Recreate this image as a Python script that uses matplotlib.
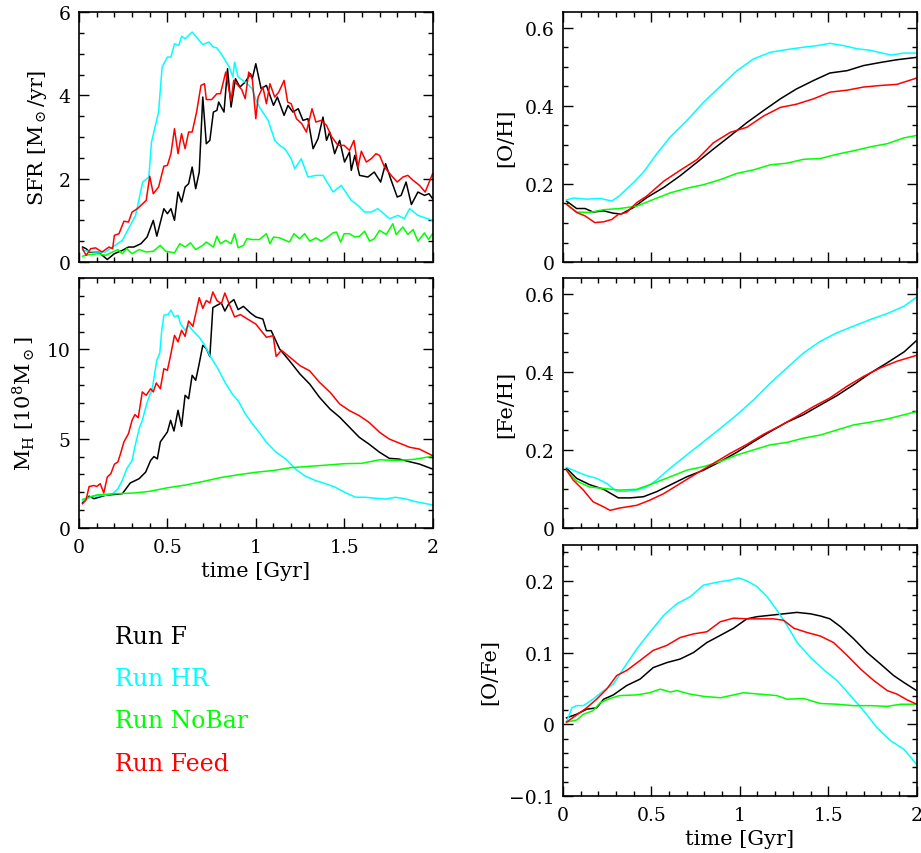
import matplotlib
matplotlib.use("Agg")
import matplotlib.pyplot as plt
from matplotlib.ticker import MultipleLocator, FuncFormatter

plt.rcParams["font.family"] = "DejaVu Serif"
plt.rcParams["mathtext.fontset"] = "dejavuserif"

# ------------------------------------------------------------------
# data (time in Gyr)
# ------------------------------------------------------------------
runs = ["Run F", "Run HR", "Run NoBar", "Run Feed"]
colors = ["black", "#00ffff", "#00ff00", "#ff0000"]

# SFR [Msun/yr]
sfr_t_F = [0.02, 0.04, 0.06, 0.11, 0.16, 0.2, 0.245, 0.28, 0.31, 0.35, 0.385, 0.42, 0.44, 0.48, 0.5,
           0.52, 0.54, 0.56, 0.58, 0.6, 0.62, 0.64, 0.66, 0.68, 0.7, 0.72, 0.74, 0.76, 0.78, 0.79,
           0.82, 0.84, 0.86, 0.885, 0.91, 0.94, 0.97, 0.98, 1.0, 1.03, 1.06, 1.1, 1.122, 1.16, 1.182,
           1.21, 1.24, 1.267, 1.295, 1.324, 1.352, 1.38, 1.4, 1.418, 1.446, 1.474, 1.502, 1.53, 1.54,
           1.56, 1.587, 1.634, 1.67, 1.706, 1.734, 1.766, 1.8, 1.822, 1.85, 1.88, 1.917, 1.954, 1.98, 2.0]
sfr_F = [0.36, 0.32, 0.24, 0.24, 0.06, 0.2, 0.28, 0.36, 0.36, 0.44, 0.6, 1.0, 0.62, 1.28, 1.16,
         1.28, 1.0, 1.68, 1.44, 1.8, 1.88, 2.28, 1.76, 2.16, 3.96, 2.84, 2.92, 3.6, 3.64, 3.84,
         3.6, 4.64, 3.72, 4.4, 4.2, 4.32, 4.52, 4.4, 4.76, 4.16, 4.24, 3.76, 3.96, 3.52, 3.76,
         3.6, 3.68, 3.4, 3.44, 2.72, 2.96, 3.48, 2.92, 3.12, 2.6, 2.92, 2.4, 2.64, 2.2,
         2.56, 2.08, 2.04, 2.16, 1.92, 2.36, 1.96, 1.56, 1.6, 1.92, 1.38, 1.68, 1.6, 1.64, 1.52]

sfr_t_HR = [0.02, 0.094, 0.15, 0.19, 0.245, 0.28, 0.32, 0.36, 0.395, 0.41, 0.45, 0.47, 0.5, 0.52, 0.54,
            0.565, 0.58, 0.6, 0.64, 0.7, 0.735, 0.76, 0.78, 0.81, 0.85, 0.87, 0.88, 0.9, 0.94, 0.98,
            1.0, 1.02, 1.07, 1.107, 1.135, 1.164, 1.2, 1.22, 1.257, 1.295, 1.34, 1.38, 1.437, 1.483, 1.54,
            1.578, 1.615, 1.653, 1.69, 1.757, 1.804, 1.84, 1.87, 1.917, 2.0]
sfr_HR = [0.28, 0.24, 0.24, 0.36, 0.52, 0.8, 1.12, 1.92, 2.04, 2.88, 3.6, 4.68, 4.92, 4.92, 5.24,
          5.2, 5.42, 5.36, 5.52, 5.22, 5.28, 5.16, 5.14, 4.96, 4.68, 4.44, 4.8, 4.44, 4.32, 4.16,
          3.9, 3.72, 3.4, 2.92, 2.8, 2.72, 2.48, 2.24, 2.48, 2.04, 2.08, 2.08, 1.68, 1.84, 1.48,
          1.36, 1.2, 1.2, 1.28, 1.04, 1.12, 1.04, 1.28, 1.12, 1.0]

sfr_t_NoBar = [0.02, 0.06, 0.11, 0.15, 0.19, 0.22, 0.245, 0.27, 0.3, 0.34, 0.38, 0.42, 0.46, 0.49, 0.54,
               0.57, 0.6, 0.63, 0.66, 0.7, 0.72, 0.76, 0.78, 0.8, 0.83, 0.86, 0.88, 0.9, 0.93, 0.95,
               0.98, 1.02, 1.06, 1.08, 1.1, 1.135, 1.19, 1.216, 1.248, 1.276, 1.305, 1.34, 1.37, 1.4,
               1.437, 1.456, 1.48, 1.5, 1.53, 1.56, 1.587, 1.615, 1.644, 1.67, 1.7, 1.738, 1.775, 1.794,
               1.832, 1.86, 1.89, 1.917, 1.954, 1.977, 2.0]
sfr_NoBar = [0.14, 0.18, 0.2, 0.16, 0.24, 0.3, 0.2, 0.32, 0.2, 0.3, 0.24, 0.26, 0.4, 0.26, 0.22,
             0.44, 0.36, 0.46, 0.3, 0.4, 0.48, 0.36, 0.62, 0.44, 0.52, 0.44, 0.68, 0.34, 0.4, 0.56,
             0.54, 0.54, 0.68, 0.44, 0.6, 0.58, 0.48, 0.68, 0.56, 0.68, 0.5, 0.58, 0.5, 0.58,
             0.7, 0.72, 0.48, 0.68, 0.68, 0.6, 0.62, 0.74, 0.5, 0.56, 0.76, 0.66, 0.92, 0.66,
             0.84, 0.66, 0.78, 0.5, 0.7, 0.54, 0.68]

sfr_t_Feed = [0.02, 0.04, 0.066, 0.094, 0.13, 0.17, 0.19, 0.2, 0.226, 0.254, 0.28, 0.3, 0.33, 0.36, 0.38,
              0.4, 0.42, 0.45, 0.48, 0.5, 0.52, 0.54, 0.56, 0.58, 0.6, 0.62, 0.64, 0.665, 0.69, 0.71,
              0.72, 0.75, 0.78, 0.8, 0.83, 0.86, 0.875, 0.9, 0.92, 0.94, 0.96, 0.98, 1.0, 1.013, 1.04,
              1.06, 1.08, 1.107, 1.13, 1.16, 1.18, 1.2, 1.23, 1.26, 1.286, 1.318, 1.34, 1.37, 1.4,
              1.43, 1.465, 1.5, 1.53, 1.555, 1.578, 1.597, 1.625, 1.653, 1.68, 1.7, 1.728, 1.766, 1.8,
              1.832, 1.86, 1.89, 1.926, 1.958, 1.977, 2.0]
sfr_Feed = [0.32, 0.16, 0.32, 0.34, 0.24, 0.36, 0.32, 0.64, 0.68, 0.98, 0.96, 1.2, 1.28, 1.4, 1.48,
            2.06, 1.64, 1.8, 2.3, 2.32, 2.6, 3.2, 2.6, 3.08, 2.72, 3.12, 3.12, 3.6, 4.24, 4.28,
            3.9, 3.9, 4.04, 4.04, 4.56, 3.86, 4.36, 4.24, 4.14, 3.92, 4.56, 4.4, 3.44, 3.96, 4.2,
            3.8, 4.28, 3.96, 4.08, 4.36, 3.84, 3.8, 3.44, 3.32, 3.12, 3.68, 3.36, 3.4, 3.28,
            3.0, 2.8, 2.8, 2.68, 2.92, 2.28, 2.66, 2.4, 2.48, 2.6, 2.56, 2.28, 2.08, 1.92,
            2.04, 2.08, 1.96, 1.84, 1.68, 1.88, 2.12]

# M_H [1e8 Msun]
mh_t_F = [0.02, 0.057, 0.085, 0.15, 0.245, 0.29, 0.34, 0.377, 0.405, 0.424, 0.443, 0.46, 0.48, 0.5,
          0.518, 0.537, 0.56, 0.58, 0.6, 0.62, 0.64, 0.66, 0.678, 0.7, 0.72, 0.74, 0.757, 0.78, 0.805,
          0.825, 0.847, 0.876, 0.9, 0.93, 0.97, 1.0, 1.04, 1.06, 1.087, 1.135, 1.19, 1.25, 1.305,
          1.36, 1.42, 1.475, 1.53, 1.585, 1.64, 1.7, 1.755, 1.81, 1.87, 1.925, 2.0]
mh_F = [1.4, 1.78, 1.64, 1.83, 1.92, 2.52, 2.76, 3.13, 3.78, 4.0, 3.87, 4.82, 5.1, 5.38,
        6.03, 5.43, 6.59, 5.69, 7.43, 7.24, 8.55, 8.27, 9.11, 10.23, 10.04, 9.6, 12.34, 12.47, 12.6,
        12.15, 12.56, 12.79, 12.23, 12.41, 12.04, 11.82, 11.7, 11.05, 11.05, 10.02, 9.37, 8.62, 8.06,
        7.32, 6.66, 6.2, 5.64, 5.08, 4.7, 4.24, 3.9, 3.86, 3.71, 3.58, 3.3]

mh_t_HR = [0.02, 0.075, 0.15, 0.19, 0.22, 0.245, 0.27, 0.3, 0.316, 0.34, 0.358, 0.386, 0.414, 0.44,
           0.457, 0.467, 0.48, 0.505, 0.52, 0.54, 0.56, 0.574, 0.6, 0.62, 0.65, 0.678, 0.706, 0.744,
           0.78, 0.83, 0.866, 0.904, 0.94, 0.98, 1.017, 1.06, 1.115, 1.17, 1.225, 1.28, 1.34, 1.4,
           1.45, 1.51, 1.565, 1.62, 1.68, 1.735, 1.79, 1.85, 1.905, 2.0]
mh_HR = [1.51, 1.78, 1.83, 1.92, 2.2, 2.67, 3.32, 3.78, 4.54, 5.56, 6.03, 7.06, 7.8, 9.39,
         9.8, 10.98, 11.91, 11.97, 12.2, 11.82, 11.91, 11.44, 11.07, 11.35, 10.98, 10.7, 10.32, 9.58,
         9.02, 8.08, 7.52, 7.06, 6.4, 5.84, 5.38, 4.8, 4.24, 3.86, 3.3, 2.9, 2.65, 2.46,
         2.28, 1.96, 1.72, 1.72, 1.66, 1.62, 1.72, 1.62, 1.47, 1.29]

mh_t_NoBar = [0.02, 0.1, 0.2, 0.3, 0.4, 0.5, 0.6, 0.7, 0.8, 0.9, 1.0, 1.1, 1.2, 1.3, 1.4, 1.5,
              1.6, 1.7, 1.8, 1.9, 2.0]
mh_NoBar = [1.6, 1.85, 1.92, 1.95, 2.05, 2.25, 2.4, 2.6, 2.82, 2.98, 3.12, 3.22, 3.38, 3.45, 3.52,
            3.6, 3.62, 3.82, 3.78, 3.85, 4.02]

mh_t_Feed = [0.02, 0.04, 0.057, 0.085, 0.1, 0.12, 0.14, 0.16, 0.18, 0.2, 0.22, 0.235, 0.254, 0.28,
             0.3, 0.316, 0.335, 0.358, 0.38, 0.405, 0.42, 0.437, 0.46, 0.48, 0.5, 0.52, 0.54, 0.56,
             0.58, 0.6, 0.62, 0.644, 0.66, 0.68, 0.7, 0.72, 0.74, 0.757, 0.78, 0.805, 0.825, 0.847,
             0.88, 0.913, 0.95, 1.0, 1.06, 1.098, 1.115, 1.145, 1.193, 1.25, 1.305, 1.36, 1.42,
             1.475, 1.53, 1.585, 1.64, 1.7, 1.755, 1.81, 1.87, 1.925, 2.0]
mh_Feed = [1.36, 1.58, 2.32, 2.38, 2.32, 2.48, 1.96, 2.86, 3.04, 3.57, 3.7, 4.17, 4.82, 5.29,
           6.03, 6.35, 6.18, 7.62, 7.43, 7.8, 7.62, 8.12, 7.8, 8.92, 8.83, 9.76, 10.79, 10.42,
           11.07, 10.73, 11.59, 11.29, 12.0, 12.9, 12.3, 12.74, 12.6, 13.22, 12.74, 12.56, 13.16, 12.6,
           11.82, 11.95, 11.72, 11.42, 10.68, 10.77, 9.61, 9.95, 9.56, 9.09, 8.8, 8.16, 7.6,
           6.94, 6.57, 6.29, 5.92, 5.36, 4.98, 4.76, 4.52, 4.42, 4.05]

# [O/H]
oh_t_F = [0.02, 0.077, 0.125, 0.17, 0.23, 0.285, 0.33, 0.4, 0.474, 0.57, 0.663, 0.757, 0.85, 0.946,
          1.04, 1.135, 1.23, 1.32, 1.418, 1.51, 1.607, 1.7, 1.796, 1.89, 2.0]
oh_F = [0.156, 0.137, 0.137, 0.128, 0.131, 0.125, 0.123, 0.14, 0.165, 0.191, 0.221, 0.255, 0.289, 0.323,
        0.357, 0.388, 0.418, 0.443, 0.465, 0.484, 0.49, 0.503, 0.511, 0.518, 0.524]
oh_t_HR = [0.02, 0.06, 0.134, 0.21, 0.276, 0.32, 0.4, 0.455, 0.53, 0.606, 0.7, 0.795, 0.89, 0.984,
           1.078, 1.173, 1.267, 1.36, 1.437, 1.51, 1.588, 1.664, 1.74, 1.853, 1.93, 2.0]
oh_HR = [0.159, 0.164, 0.161, 0.163, 0.156, 0.17, 0.204, 0.23, 0.277, 0.32, 0.362, 0.409, 0.45, 0.49,
         0.52, 0.537, 0.544, 0.55, 0.554, 0.56, 0.554, 0.546, 0.542, 0.53, 0.535, 0.535]
oh_t_NoBar = [0.02, 0.077, 0.15, 0.23, 0.32, 0.417, 0.51, 0.606, 0.7, 0.795, 0.89, 0.984, 1.078,
              1.173, 1.267, 1.36, 1.456, 1.55, 1.645, 1.74, 1.834, 1.93, 2.0]
oh_NoBar = [0.148, 0.128, 0.127, 0.134, 0.137, 0.143, 0.16, 0.177, 0.189, 0.198, 0.211, 0.227, 0.236,
            0.249, 0.253, 0.263, 0.265, 0.276, 0.285, 0.295, 0.303, 0.318, 0.324]
oh_t_Feed = [0.02, 0.077, 0.125, 0.18, 0.23, 0.276, 0.313, 0.36, 0.417, 0.474, 0.57, 0.663, 0.757,
             0.85, 0.946, 1.04, 1.135, 1.23, 1.32, 1.418, 1.51, 1.607, 1.7, 1.796, 1.89, 2.0]
oh_Feed = [0.148, 0.127, 0.118, 0.101, 0.103, 0.109, 0.122, 0.127, 0.152, 0.169, 0.207, 0.235, 0.262,
           0.305, 0.332, 0.345, 0.374, 0.396, 0.404, 0.418, 0.435, 0.44, 0.448, 0.452, 0.455, 0.471]

# [Fe/H]
feh_t_F = [0.02, 0.077, 0.15, 0.23, 0.313, 0.38, 0.455, 0.53, 0.606, 0.7, 0.795, 0.89, 0.984, 1.078,
           1.173, 1.267, 1.36, 1.456, 1.55, 1.645, 1.74, 1.834, 1.93, 2.0]
feh_F = [0.153, 0.127, 0.111, 0.099, 0.077, 0.077, 0.08, 0.093, 0.11, 0.131, 0.148, 0.17, 0.194, 0.221,
         0.247, 0.271, 0.29, 0.315, 0.339, 0.367, 0.397, 0.423, 0.451, 0.48]
feh_t_HR = [0.02, 0.077, 0.134, 0.19, 0.247, 0.304, 0.36, 0.417, 0.474, 0.53, 0.606, 0.7, 0.795,
            0.89, 0.984, 1.078, 1.173, 1.267, 1.36, 1.456, 1.55, 1.645, 1.74, 1.834, 1.93, 2.0]
feh_HR = [0.155, 0.144, 0.134, 0.127, 0.114, 0.094, 0.094, 0.097, 0.105, 0.123, 0.153, 0.187, 0.221,
          0.255, 0.29, 0.328, 0.371, 0.41, 0.448, 0.478, 0.5, 0.517, 0.534, 0.549, 0.568, 0.591]
feh_t_NoBar = [0.02, 0.077, 0.15, 0.23, 0.32, 0.417, 0.51, 0.606, 0.7, 0.795, 0.89, 0.984, 1.078,
               1.173, 1.267, 1.36, 1.456, 1.55, 1.645, 1.74, 1.834, 1.93, 2.0]
feh_NoBar = [0.148, 0.12, 0.105, 0.101, 0.097, 0.099, 0.114, 0.131, 0.148, 0.157, 0.17, 0.187, 0.2,
             0.213, 0.219, 0.23, 0.238, 0.251, 0.264, 0.271, 0.279, 0.29, 0.298]
feh_t_Feed = [0.02, 0.057, 0.115, 0.17, 0.23, 0.266, 0.32, 0.417, 0.49, 0.57, 0.663, 0.757, 0.85,
              0.946, 1.04, 1.135, 1.23, 1.32, 1.418, 1.51, 1.607, 1.7, 1.796, 1.89, 2.0]
feh_Feed = [0.148, 0.123, 0.097, 0.067, 0.054, 0.045, 0.051, 0.058, 0.071, 0.088, 0.114, 0.14, 0.165,
            0.191, 0.214, 0.24, 0.262, 0.285, 0.311, 0.333, 0.363, 0.388, 0.41, 0.427, 0.442]

# [O/Fe]
ofe_t_F = [0.02, 0.077, 0.134, 0.19, 0.23, 0.285, 0.36, 0.436, 0.51, 0.587, 0.663, 0.738, 0.814, 0.89,
           0.965, 1.04, 1.097, 1.173, 1.248, 1.324, 1.4, 1.456, 1.51, 1.57, 1.645, 1.72, 1.796, 1.87,
           1.93, 2.0]
ofe_F = [0.009, 0.014, 0.021, 0.023, 0.035, 0.041, 0.054, 0.063, 0.079, 0.086, 0.091, 0.1, 0.114, 0.124,
         0.134, 0.147, 0.15, 0.152, 0.154, 0.156, 0.154, 0.151, 0.147, 0.136, 0.119, 0.1, 0.084, 0.068,
         0.058, 0.047]
ofe_t_HR = [0.02, 0.05, 0.077, 0.115, 0.17, 0.23, 0.285, 0.34, 0.417, 0.49, 0.57, 0.644, 0.72, 0.795,
            0.87, 0.946, 0.993, 1.04, 1.097, 1.154, 1.21, 1.267, 1.324, 1.4, 1.475, 1.55, 1.626, 1.7,
            1.777, 1.853, 1.93, 2.0]
ofe_HR = [0.003, 0.023, 0.026, 0.026, 0.035, 0.047, 0.056, 0.077, 0.105, 0.128, 0.152, 0.168, 0.178,
          0.194, 0.198, 0.201, 0.204, 0.2, 0.192, 0.178, 0.159, 0.138, 0.114, 0.093, 0.076, 0.061,
          0.04, 0.019, -0.005, -0.023, -0.035, -0.056]
ofe_t_NoBar = [0.02, 0.077, 0.115, 0.17, 0.21, 0.266, 0.32, 0.417, 0.49, 0.55, 0.606, 0.644, 0.72,
               0.795, 0.89, 0.984, 1.02, 1.116, 1.21, 1.267, 1.36, 1.456, 1.55, 1.645, 1.74, 1.834,
               1.91, 2.0]
ofe_NoBar = [0.003, 0.006, 0.014, 0.019, 0.03, 0.036, 0.04, 0.041, 0.044, 0.049, 0.045, 0.047, 0.042,
             0.039, 0.037, 0.042, 0.044, 0.042, 0.04, 0.035, 0.036, 0.029, 0.028, 0.026, 0.026, 0.025,
             0.028, 0.028]
ofe_t_Feed = [0.02, 0.077, 0.134, 0.19, 0.247, 0.304, 0.36, 0.436, 0.51, 0.587, 0.663, 0.738, 0.814,
              0.89, 0.965, 1.04, 1.116, 1.19, 1.248, 1.305, 1.38, 1.456, 1.53, 1.607, 1.683, 1.758,
              1.834, 1.89, 1.947, 2.0]
ofe_Feed = [0.003, 0.013, 0.023, 0.035, 0.049, 0.068, 0.075, 0.089, 0.103, 0.11, 0.121, 0.126, 0.129,
            0.143, 0.148, 0.147, 0.147, 0.147, 0.145, 0.134, 0.128, 0.123, 0.114, 0.096, 0.077, 0.061,
            0.047, 0.042, 0.034, 0.028]

# ------------------------------------------------------------------
# figure
# ------------------------------------------------------------------
fig = plt.figure(figsize=(9.21, 8.54), dpi=100)

LX, RX, W = 0.0858, 0.6113, 0.3839
ax_sfr = fig.add_axes([LX, 0.692, W, 0.2927])
ax_mh = fig.add_axes([LX, 0.3806, W, 0.2927])
ax_oh = fig.add_axes([RX, 0.692, W, 0.2927])
ax_feh = fig.add_axes([RX, 0.3806, W, 0.2927])
ax_ofe = fig.add_axes([RX, 0.0667, W, 0.294])

fmt = FuncFormatter(lambda v, p: f"{v:g}".replace("-", "\u2212"))


def style(ax, ylim, ymaj, ymin, ylabel, xlabels):
    ax.set_xlim(0, 2)
    ax.set_ylim(*ylim)
    ax.xaxis.set_major_locator(MultipleLocator(0.5))
    ax.xaxis.set_minor_locator(MultipleLocator(0.1))
    ax.yaxis.set_major_locator(MultipleLocator(ymaj))
    ax.yaxis.set_minor_locator(MultipleLocator(ymin))
    ax.xaxis.set_major_formatter(fmt)
    ax.yaxis.set_major_formatter(fmt)
    ax.tick_params(which="both", direction="in", top=True, right=True, width=1.0, labelsize=13.5)
    ax.tick_params(which="major", length=7.5, pad=6)
    ax.tick_params(axis="x", which="major", pad=7)
    ax.tick_params(which="minor", length=3.8)
    for s in ax.spines.values():
        s.set_linewidth(1.2)
    ax.set_ylabel(ylabel, fontsize=15, labelpad=7)
    if xlabels:
        ax.set_xlabel("time [Gyr]", fontsize=15, labelpad=4)
    else:
        ax.tick_params(labelbottom=False)


panels = [
    (ax_sfr, [(sfr_t_F, sfr_F), (sfr_t_HR, sfr_HR), (sfr_t_NoBar, sfr_NoBar), (sfr_t_Feed, sfr_Feed)]),
    (ax_mh, [(mh_t_F, mh_F), (mh_t_HR, mh_HR), (mh_t_NoBar, mh_NoBar), (mh_t_Feed, mh_Feed)]),
    (ax_oh, [(oh_t_F, oh_F), (oh_t_HR, oh_HR), (oh_t_NoBar, oh_NoBar), (oh_t_Feed, oh_Feed)]),
    (ax_feh, [(feh_t_F, feh_F), (feh_t_HR, feh_HR), (feh_t_NoBar, feh_NoBar), (feh_t_Feed, feh_Feed)]),
    (ax_ofe, [(ofe_t_F, ofe_F), (ofe_t_HR, ofe_HR), (ofe_t_NoBar, ofe_NoBar), (ofe_t_Feed, ofe_Feed)]),
]
for ax, series in panels:
    for (t, v), c in zip(series, colors):
        ax.plot(t, v, color=c, lw=1.1)

style(ax_sfr, (0, 6), 2, 0.5, r"SFR [M$_\odot$/yr]", False)
style(ax_mh, (0, 14), 5, 1, r"M$_{\rm H}$ [10$^8$M$_\odot$]", True)
style(ax_oh, (0, 0.64), 0.2, 0.05, "[O/H]", False)
style(ax_feh, (0, 0.64), 0.2, 0.05, "[Fe/H]", False)
style(ax_ofe, (-0.1, 0.25), 0.1, 0.02, "[O/Fe]", True)

# text legend in the empty lower-left corner
for i, (name, c) in enumerate(zip(runs, colors)):
    fig.text(115 / 921, 1 - (637 + 42.5 * i) / 854, name, color=c, fontsize=17,
             ha="left", va="center")

plt.savefig("out.png", dpi=100)
